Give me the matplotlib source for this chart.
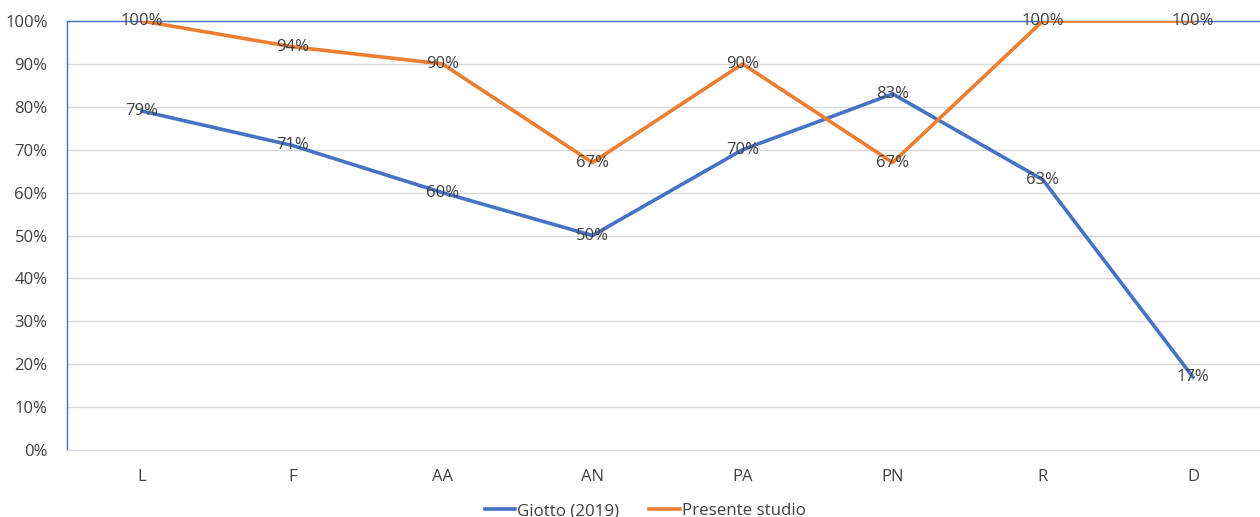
import matplotlib.pyplot as plt
from matplotlib.ticker import PercentFormatter

# Dati
categorie = ["L", "F", "AA", "AN", "PA", "PN", "R", "D"]
giotto = [79, 71, 60, 50, 70, 83, 63, 17]
presente = [100, 94, 90, 67, 90, 67, 100, 100]

blu = "#4472C4"
arancio = "#ED7D31"
grigio_testo = "#404040"

plt.rcParams["font.family"] = ["Open Sans", "DejaVu Sans"]

fig = plt.figure(figsize=(12.6, 5.17), dpi=100)
W, H = 1260, 517
ax = fig.add_axes([67 / W, (H - 450) / H, (1268 - 67) / W, (450 - 21) / H])

x = list(range(len(categorie)))
ax.plot(x, giotto, color=blu, linewidth=2.6, label="Giotto (2019)", zorder=3)
ax.plot(x, presente, color=arancio, linewidth=2.6, label="Presente studio", zorder=3)

# Etichette dei valori centrate sui punti
for serie in (giotto, presente):
    for xi, v in zip(x, serie):
        ax.text(xi, v, f"{v}%", ha="center", va="center", fontsize=12,
                color=grigio_testo, zorder=4)

ax.set_xlim(-0.5, len(categorie) - 0.5)
ax.set_ylim(0, 100)
ax.set_yticks(range(0, 101, 10))
ax.yaxis.set_major_formatter(PercentFormatter(decimals=0))
ax.set_xticks(x)
ax.set_xticklabels(categorie)
ax.tick_params(axis="both", length=0, labelsize=12, colors=grigio_testo)
ax.tick_params(axis="x", pad=14)
ax.tick_params(axis="y", pad=14)

ax.grid(axis="y", color="#D9D9D9", linewidth=1)
ax.set_axisbelow(True)
for lato in ("left", "top"):
    ax.spines[lato].set_color(blu)
    ax.spines[lato].set_linewidth(1)
ax.spines["right"].set_visible(False)
ax.spines["bottom"].set_color("#D9D9D9")

fig.legend(loc="lower center", bbox_to_anchor=(645 / W, -0.034), ncol=2,
           frameon=False, fontsize=12.2, handlelength=1.8, handletextpad=0.1,
           columnspacing=1.8, labelcolor=grigio_testo)

fig.savefig("out.png", dpi=100)
